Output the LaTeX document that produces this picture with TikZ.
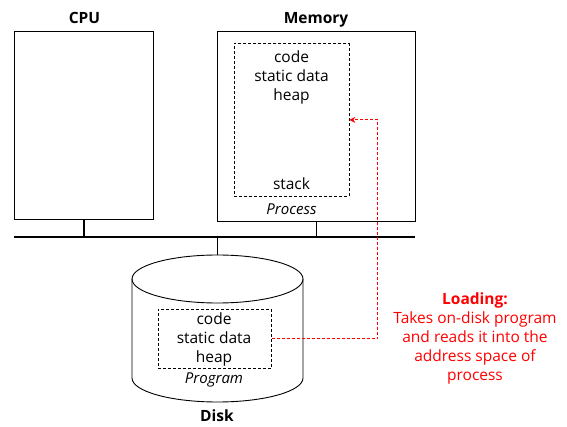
\documentclass[tikz,border=0pt]{standalone}
\usepackage{fontspec}
\setmainfont{Open Sans}
\usetikzlibrary{arrows.meta,calc}
\begin{document}
\begin{tikzpicture}[x=1pt,y=-1pt,
  box/.style={draw,line width=0.9pt,anchor=north west,inner sep=0pt},
  dbox/.style={draw,line width=0.8pt,dash pattern=on 3pt off 2pt,anchor=north west,inner sep=0pt},
  title/.style={font=\fontsize{15.5}{18}\selectfont\bfseries,anchor=base,inner sep=0pt},
  txt/.style={font=\fontsize{15.5}{19}\selectfont,align=center,inner sep=0pt},
  itx/.style={font=\fontsize{15}{18}\selectfont\itshape,inner sep=0pt},
  bus/.style={line width=2.2pt},
  load/.style={draw=red,line width=1pt,dash pattern=on 3pt off 2pt,-{Stealth[length=6pt,width=6pt,fill=red]}}]
\useasboundingbox (0,0) rectangle (567,427);
% CPU
\node[box,minimum width=139,minimum height=188] (cpu) at (14,31) {};
\node[title] (cpul) at (84.5,24) {CPU};
% Memory
\node[box,minimum width=198,minimum height=190] (mem) at (217,31) {};
\node[title] (meml) at (316,24) {Memory};
\node[dbox,minimum width=114.5,minimum height=153] (proc) at (234,43) {};
\node[txt] (proct) at (291.5,77) {code\\static data\\heap};
\node[txt] (stack) at (291.5,184) {stack};
\node[itx] (procl) at (291.5,209) {Process};
% bus
\coordinate (busL) at (14,237);
\coordinate (busR) at (415,237);
\draw[bus] (busL) -- (busR);
\draw[line width=1.5pt] (cpu.south) -- (cpu.south |- busL);
\draw[line width=1.5pt] (mem.south) -- (mem.south |- busL);
% Disk
\coordinate (disktop) at (217.5,255);
\draw[line width=0.9pt] (132,279) -- (132,378) arc[start angle=180,end angle=0,x radius=85.5,y radius=24] -- (303,279);
\draw[line width=0.9pt] (217.5,279) ellipse[x radius=85.5,y radius=24];
\draw[line width=1.5pt] (disktop) -- (disktop |- busL);
\node[dbox,minimum width=113.5,minimum height=59] (prog) at (157.5,309) {};
\node[txt] (progt) at (214,339) {code\\static data\\heap};
\node[itx] (progl) at (214,380) {Program};
\node[title] (diskl) at (217,421) {Disk};
% Loading
\draw[load] (prog.east) -| ($(proc.east)+(28.5,0)$) -- (proc.east);
\node[txt,text=red] (loadt) at (475,338.5) {\textbf{Loading:}\\Takes on-disk program\\and reads it into the\\address space of\\process};
\end{tikzpicture}
\end{document}
